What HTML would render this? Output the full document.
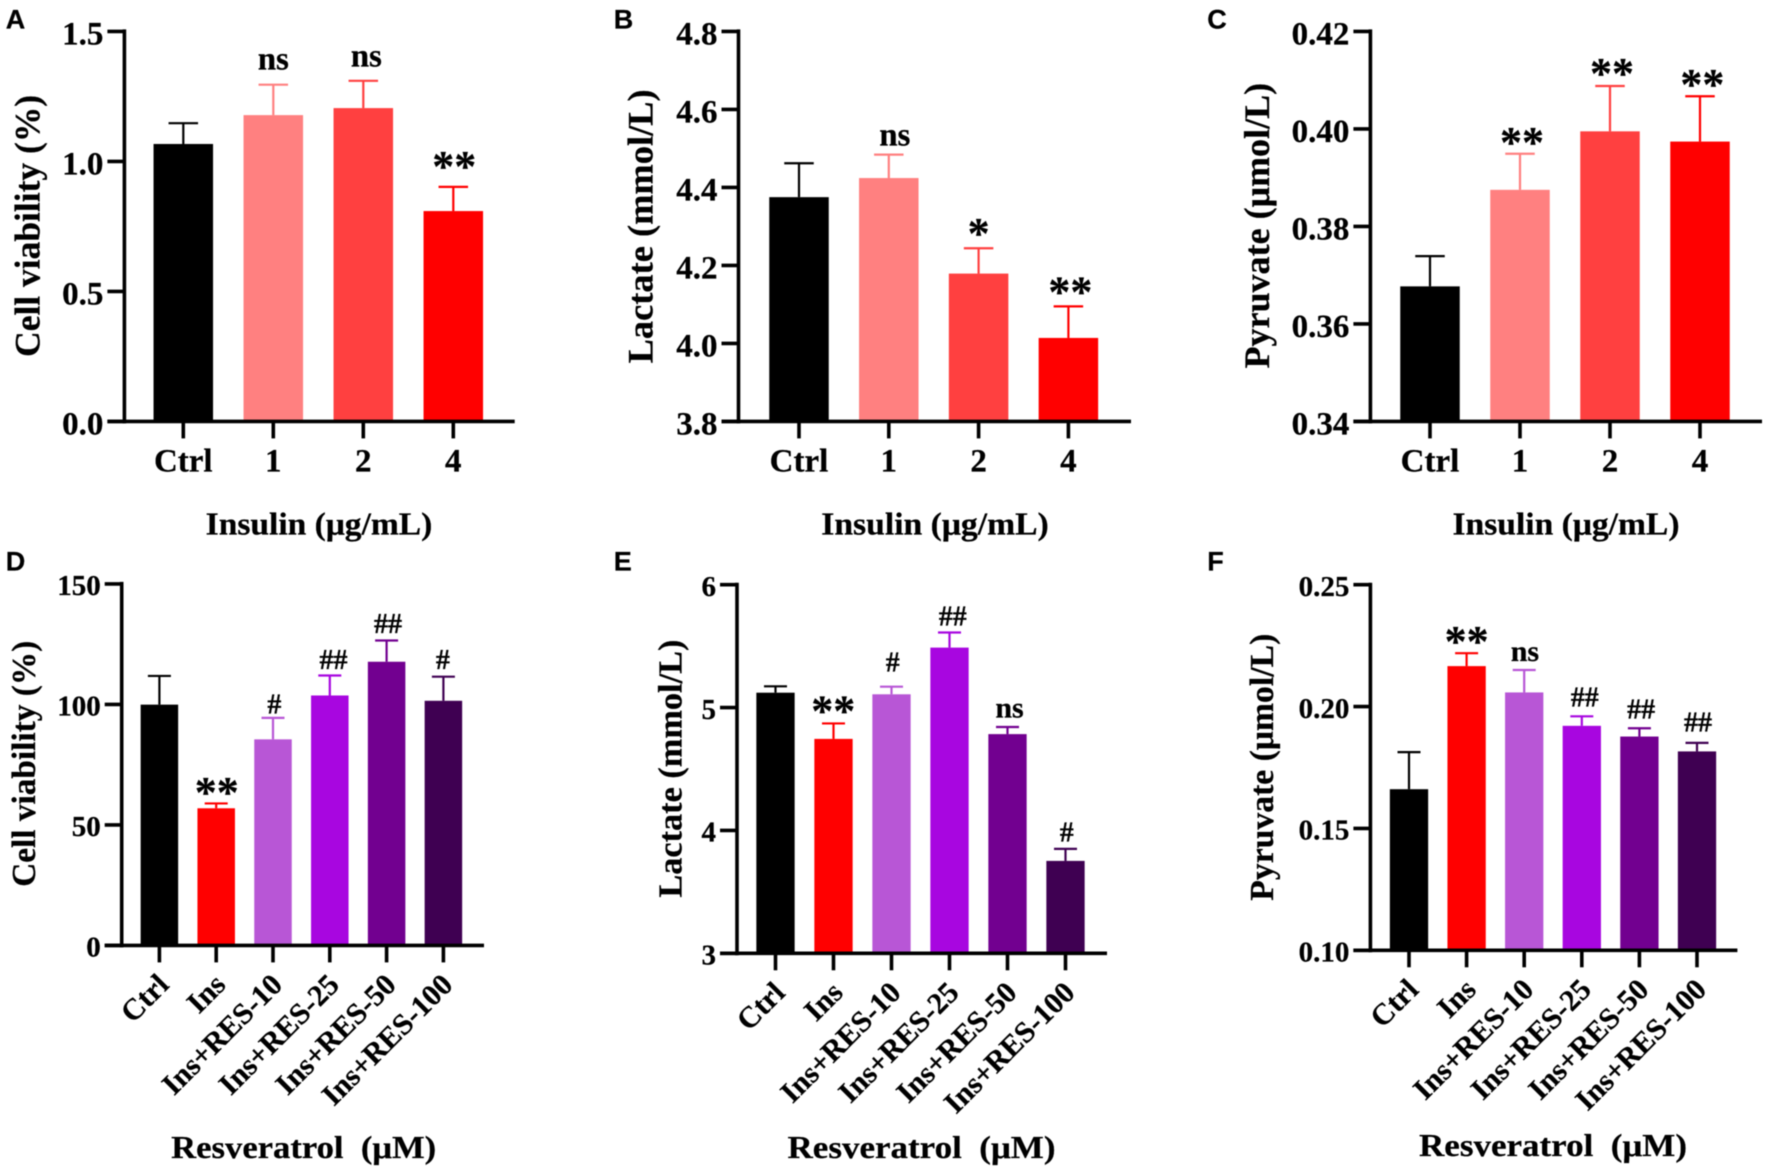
<!DOCTYPE html>
<html lang="en">
<head>
<meta charset="utf-8">
<title>Cell viability, lactate and pyruvate bar charts</title>
<style>
html,body{margin:0;padding:0;background:#fff;}
svg{display:block;filter:blur(0.5px);}
text{font-family:"Liberation Serif",serif;font-weight:bold;fill:#000;stroke:#000;stroke-width:0.25px;}
.panel-letter{font-family:"Liberation Sans",sans-serif;}
</style>
</head>
<body>
<svg id="figure" xmlns="http://www.w3.org/2000/svg" width="1772" height="1175" viewBox="0 0 1772 1175"></svg>
<script>
// ---------- Data ----------
const insulinCategories = ['Ctrl', '1', '2', '4'];
const resveratrolCategories = ['Ctrl', 'Ins', 'Ins+RES-10', 'Ins+RES-25', 'Ins+RES-50', 'Ins+RES-100'];

const viabilityInsulinMeans = [1.067, 1.178, 1.205, 0.809];
const viabilityInsulinErrors = [0.08, 0.117, 0.105, 0.093];
const viabilityInsulinNotes = ['', 'ns', 'ns', '**'];
const viabilityInsulinTicks = ['0.0', '0.5', '1.0', '1.5'];

const lactateInsulinMeans = [4.375, 4.424, 4.179, 4.014];
const lactateInsulinErrors = [0.087, 0.06, 0.065, 0.081];
const lactateInsulinNotes = ['', 'ns', '*', '**'];
const lactateInsulinTicks = ['3.8', '4.0', '4.2', '4.4', '4.6', '4.8'];

const pyruvateInsulinMeans = [0.3677, 0.3875, 0.3995, 0.3974];
const pyruvateInsulinErrors = [0.0062, 0.0074, 0.0093, 0.0093];
const pyruvateInsulinNotes = ['', '**', '**', '**'];
const pyruvateInsulinTicks = ['0.34', '0.36', '0.38', '0.40', '0.42'];

const viabilityResMeans = [99.9, 56.9, 85.5, 103.7, 117.7, 101.5];
const viabilityResErrors = [11.9, 2, 8.9, 8.3, 8.8, 10];
const viabilityResNotes = ['', '**', '#', '##', '##', '#'];
const viabilityResTicks = ['0', '50', '100', '150'];

const lactateResMeans = [5.121, 4.745, 5.108, 5.488, 4.784, 3.752];
const lactateResErrors = [0.052, 0.126, 0.062, 0.123, 0.058, 0.098];
const lactateResNotes = ['', '**', '#', '##', 'ns', '#'];
const lactateResTicks = ['3', '4', '5', '6'];

const pyruvateResMeans = [0.1661, 0.2166, 0.2058, 0.1921, 0.1877, 0.1816];
const pyruvateResErrors = [0.0152, 0.0053, 0.0092, 0.0039, 0.0034, 0.0035];
const pyruvateResNotes = ['', '**', 'ns', '##', '##', '##'];
const pyruvateResTicks = ['0.10', '0.15', '0.20', '0.25'];

// ---------- Styles ----------
const insulinColors = ['#000000', '#ff8080', '#ff4040', '#ff0000'];
const resColors = ['#000000', '#ff0000', '#b856d6', '#a806e0', '#720090', '#3f0052'];
const NS = 'http://www.w3.org/2000/svg';
const root = document.getElementById('figure');

// ---------- Layout (separate from data) ----------
const panels = [
  { id: 'a', letter: 'A', letterX: 5.7, letterY: 28.6, axisX: 124.4, axisRight: 514.7, top: 31.4, bottom: 421.4,
    first: 183.3, step: 90, barW: 59.5, capW: 29.5, tickSize: 33, catSize: 33, rotated: false,
    cats: insulinCategories, means: viabilityInsulinMeans, errors: viabilityInsulinErrors, notes: viabilityInsulinNotes, ticks: viabilityInsulinTicks, colors: insulinColors,
    noteGap: [0, 15, 14.4, 6], noteDx: [0, 0, 3, 1],
    yTitle: 'Cell viability (%)', yX: 39.4, yC: 225.9, yLen: 262, yTitleName: 'cell-viability-y-title',
    xTitle: 'Insulin (μg/mL)', xC: 319, xY: 534.6, xLen: 226.6 },
  { id: 'b', letter: 'B', letterX: 613.8, letterY: 28.6, axisX: 738.5, axisRight: 1131, top: 31.4, bottom: 421.4,
    first: 799, step: 89.8, barW: 59.5, capW: 29.5, tickSize: 33, catSize: 33, rotated: false,
    cats: insulinCategories, means: lactateInsulinMeans, errors: lactateInsulinErrors, notes: lactateInsulinNotes, ticks: lactateInsulinTicks, colors: insulinColors,
    noteGap: [0, 9, 0, 0], noteDx: [0, 6, 0, 2],
    yTitle: 'Lactate (mmol/L)', yX: 652.5, yC: 226.4, yLen: 274, yTitleName: 'lactate-y-title',
    xTitle: 'Insulin (μg/mL)', xC: 935, xY: 534.6, xLen: 227.5 },
  { id: 'c', letter: 'C', letterX: 1207.3, letterY: 28.6, axisX: 1370.4, axisRight: 1762, top: 31.4, bottom: 421.4,
    first: 1430, step: 90, barW: 59.5, capW: 29.5, tickSize: 33, catSize: 33, rotated: false,
    cats: insulinCategories, means: pyruvateInsulinMeans, errors: pyruvateInsulinErrors, notes: pyruvateInsulinNotes, ticks: pyruvateInsulinTicks, colors: insulinColors,
    noteGap: [0, -3, -2, -3], noteDx: [0, 2, 2, 2.4],
    yTitle: 'Pyruvate (μmol/L)', yX: 1269.2, yC: 225.7, yLen: 285.7, yTitleName: 'pyruvate-y-title',
    xTitle: 'Insulin (μg/mL)', xC: 1566, xY: 534.6, xLen: 227 },
  { id: 'd', letter: 'D', letterX: 5.7, letterY: 570.7, axisX: 121.7, axisRight: 484, top: 583.9, bottom: 945.4,
    first: 159.4, step: 56.8, barW: 37.5, capW: 23, tickSize: 29, catSize: 30, rotated: true,
    cats: resveratrolCategories, means: viabilityResMeans, errors: viabilityResErrors, notes: viabilityResNotes, ticks: viabilityResTicks, colors: resColors,
    noteGap: [0, -3.5, 4.4, 6.7, 7.5, 7.9], noteDx: [0, 0.6, 1.4, 3.7, 1.4, -0.5],
    yTitle: 'Cell viability (%)', yX: 35.2, yC: 763.8, yLen: 246, yTitleName: 'cell-viability-y-title',
    xTitle: 'Resveratrol  (μM)', xC: 303.7, xY: 1157.8, xLen: 265 },
  { id: 'e', letter: 'E', letterX: 613.8, letterY: 570.7, axisX: 737, axisRight: 1107, top: 584.7, bottom: 953.3,
    first: 775.5, step: 58, barW: 38.3, capW: 23, tickSize: 29, catSize: 30, rotated: true,
    cats: resveratrolCategories, means: lactateResMeans, errors: lactateResErrors, notes: lactateResNotes, ticks: lactateResTicks, colors: resColors,
    noteGap: [0, -2.2, 15, 6.8, 9.6, 7.5], noteDx: [0, -0.2, 1.2, 3.2, 2, 1.2],
    yTitle: 'Lactate (mmol/L)', yX: 681.3, yC: 768.6, yLen: 258, yTitleName: 'lactate-y-title',
    xTitle: 'Resveratrol  (μM)', xC: 921.5, xY: 1157.8, xLen: 268 },
  { id: 'f', letter: 'F', letterX: 1207.3, letterY: 570.7, axisX: 1370.4, axisRight: 1737.4, top: 584.7, bottom: 950.3,
    first: 1409, step: 57.6, barW: 38.3, capW: 23, tickSize: 29, catSize: 30, rotated: true,
    cats: resveratrolCategories, means: pyruvateResMeans, errors: pyruvateResErrors, notes: pyruvateResNotes, ticks: pyruvateResTicks, colors: resColors,
    noteGap: [0, -2.7, 9.2, 10, 10, 11.6], noteDx: [0, 0, 0.7, 3, 1.7, 1],
    yTitle: 'Pyruvate (μmol/L)', yX: 1272.8, yC: 767.2, yLen: 267, yTitleName: 'pyruvate-y-title',
    xTitle: 'Resveratrol  (μM)', xC: 1553, xY: 1156, xLen: 268 }
];

function makeEl(tag, parent) {
  const el = document.createElementNS(NS, tag);
  parent.appendChild(el);
  return el;
}
function setAll(el, props) {
  Object.keys(props).forEach(function (k) { el.setAttribute(k, props[k]); });
  return el;
}
function yScale(p) {
  const lo = Number(p.ticks[0]);
  const hi = Number(p.ticks[p.ticks.length - 1]);
  return function (v) { return p.bottom - (v - lo) / (hi - lo) * (p.bottom - p.top); };
}
function xScale(p) {
  return function (i) { return p.first + i * p.step; };
}

panels.forEach(function (p) {
  const y = yScale(p);
  const x = xScale(p);

  const g = makeEl('g', root);
  
  

  const letter = makeEl('text', g);
  
  
  setAll(letter, { x: p.letterX, y: p.letterY, 'font-size': 27, class: 'panel-letter' });
  letter.textContent = p.letter;

  // Bars and error bars
  p.means.forEach(function (m, i) {
    const bar = makeEl('rect', g);
    
    
    setAll(bar, { x: x(i) - p.barW / 2, y: y(m), width: p.barW, height: p.bottom - y(m), fill: p.colors[i] });

    const errTop = y(m + p.errors[i]);

    const stem = makeEl('line', g);
    
    
    setAll(stem, { x1: x(i), x2: x(i), y1: y(m), y2: errTop, stroke: p.colors[i], 'stroke-width': 2.2 });

    const cap = makeEl('line', g);
    
    
    setAll(cap, { x1: x(i) - p.capW / 2, x2: x(i) + p.capW / 2, y1: errTop, y2: errTop, stroke: p.colors[i], 'stroke-width': 2.2 });

    if (p.notes[i]) {
      const note = makeEl('text', g);
      
      
      const mark = p.notes[i];
      const size = mark.charAt(0) === '*' ? 44 : (mark.charAt(0) === '#' ? 28 : (p.rotated ? 30 : 33));
      setAll(note, { x: x(i) + p.noteDx[i], y: errTop - p.noteGap[i], 'font-size': size, 'text-anchor': 'middle' });
      note.textContent = mark;
    }
  });

  // Y axis
  const yAxis = makeEl('line', g);
  
  
  setAll(yAxis, { x1: p.axisX, x2: p.axisX, y1: p.top - 2, y2: p.bottom + 2, stroke: '#000', 'stroke-width': 3.6 });

  p.ticks.forEach(function (t) {
    const ty = y(Number(t));
    const tick = makeEl('line', g);
    
    
    setAll(tick, { x1: p.axisX - 17, x2: p.axisX, y1: ty, y2: ty, stroke: '#000', 'stroke-width': 3.6 });

    const label = makeEl('text', g);
    
    
    setAll(label, { x: p.axisX - 21, y: ty + p.tickSize * 0.39, 'font-size': p.tickSize, 'text-anchor': 'end' });
    label.textContent = t;
  });

  // X axis
  const xAxis = makeEl('line', g);
  
  
  setAll(xAxis, { x1: p.axisX - 17, x2: p.axisRight, y1: p.bottom, y2: p.bottom, stroke: '#000', 'stroke-width': 3.6 });

  p.cats.forEach(function (c, i) {
    const tick = makeEl('line', g);
    
    
    setAll(tick, { x1: x(i), x2: x(i), y1: p.bottom, y2: p.bottom + 17, stroke: '#000', 'stroke-width': 3.6 });

    const label = makeEl('text', g);
    
    
    if (p.rotated) {
      const lx = x(i) + 11;
      const ly = p.bottom + 41;
      setAll(label, { x: lx, y: ly, 'font-size': p.catSize, 'text-anchor': 'end', transform: 'rotate(-45 ' + lx + ' ' + ly + ')' });
    } else {
      setAll(label, { x: x(i), y: p.bottom + 50, 'font-size': p.catSize, 'text-anchor': 'middle' });
    }
    label.textContent = c;
  });

  // Axis titles
  const yTitle = makeEl('text', g);
  
  
  setAll(yTitle, { x: p.yX, y: p.yC, 'font-size': p.rotated ? 34 : 36, 'text-anchor': 'middle',
    textLength: p.yLen, lengthAdjust: 'spacingAndGlyphs', transform: 'rotate(-90 ' + p.yX + ' ' + p.yC + ')' });
  yTitle.textContent = p.yTitle;

  const xTitle = makeEl('text', g);
  
  
  setAll(xTitle, { x: p.xC, y: p.xY, 'font-size': 32, 'text-anchor': 'middle',
    textLength: p.xLen, lengthAdjust: 'spacingAndGlyphs', 'xml:space': 'preserve', style: 'white-space:pre' });
  xTitle.textContent = p.xTitle;
});
</script>
</body>
</html>
